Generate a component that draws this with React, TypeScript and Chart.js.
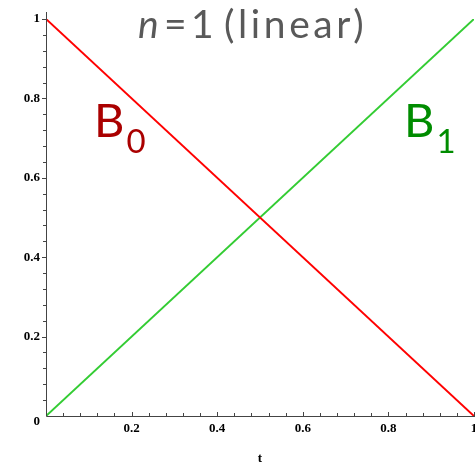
import React, { useEffect, useRef } from "react";
import { Chart, registerables } from "chart.js";

Chart.register(...registerables);

const tValues = [0, 1];
const b0Values = [1, 0];
const b1Values = [0, 1];
const xTickLabels = ["0.2", "0.4", "0.6", "0.8", "1"];
const xTickValues = [0.2, 0.4, 0.6, 0.8, 1];
const yTickLabels = ["0", "0.2", "0.4", "0.6", "0.8", "1"];
const yTickValues = [0, 0.2, 0.4, 0.6, 0.8, 1];
const minorStep = 0.04;
const titleText = "(linear)";

const axesPlugin = {
  id: "mapleAxes",
  afterDatasetsDraw(chart: any) {
    const ctx = chart.ctx;
    const xs = chart.scales.x;
    const ys = chart.scales.y;
    const x0 = xs.getPixelForValue(0);
    const y0 = ys.getPixelForValue(0);
    const x1 = xs.getPixelForValue(1);
    const y1 = ys.getPixelForValue(1);
    ctx.save();
    ctx.strokeStyle = "#444";
    ctx.lineWidth = 1;
    // axes
    ctx.beginPath();
    ctx.moveTo(x0 + 0.5, y1 - 7);
    ctx.lineTo(x0 + 0.5, y0 + 0.5);
    ctx.lineTo(x1 + 2, y0 + 0.5);
    ctx.stroke();
    // minor + major ticks
    ctx.beginPath();
    for (let i = 1; i <= 25; i++) {
      const v = i * minorStep;
      const major = i % 5 === 0;
      const px = Math.round(xs.getPixelForValue(v)) + 0.5;
      ctx.moveTo(px, y0);
      ctx.lineTo(px, y0 - (major ? 4 : 3));
      const py = Math.round(ys.getPixelForValue(v)) + 0.5;
      ctx.moveTo(x0, py);
      ctx.lineTo(x0 - (major ? 4 : 3), py);
    }
    ctx.stroke();
    // tick labels
    ctx.fillStyle = "#000";
    ctx.font = "bold 13px 'Liberation Serif', serif";
    ctx.textAlign = "right";
    ctx.textBaseline = "middle";
    yTickValues.forEach((v, i) => {
      const py = ys.getPixelForValue(v) + (v === 0 ? 6 : 0);
      ctx.fillText(yTickLabels[i], x0 - 6, py);
    });
    ctx.textAlign = "center";
    xTickValues.forEach((v, i) => {
      ctx.fillText(xTickLabels[i], xs.getPixelForValue(v), y0 + 13);
    });
    ctx.fillText("t", xs.getPixelForValue(0.5), y0 + 43);
    // title
    ctx.fillStyle = "#595959";
    ctx.textBaseline = "alphabetic";
    ctx.textAlign = "left";
    const ty = 38;
    ctx.font = "italic 39px Lato, 'Open Sans', sans-serif";
    ctx.fillText("n", 138, ty);
    ctx.font = "39px Lato, 'Open Sans', sans-serif";
    ctx.fillText("=", 164, ty);
    ctx.fillText("1", 191, ty);
    ctx.letterSpacing = "3.6px";
    ctx.fillText(titleText, 224, ty);
    ctx.letterSpacing = "0px";
    // series labels
    const drawLabel = (sub: string, color: string, x: number) => {
      ctx.fillStyle = color;
      ctx.font = "47px Lato, 'Open Sans', sans-serif";
      ctx.fillText("B", x, 137);
      const w = ctx.measureText("B").width;
      ctx.font = "33px Lato, 'Open Sans', sans-serif";
      ctx.fillText(sub, x + w + 2, 153);
    };
    drawLabel("0", "#aa0000", 94);
    drawLabel("1", "#008c00", 404);
    ctx.restore();
  },
};

export default function App() {
  const ref = useRef<HTMLCanvasElement>(null);
  useEffect(() => {
    document.body.style.margin = "0";
    const chart = new Chart(ref.current!, {
      type: "line",
      data: {
        labels: tValues,
        datasets: [
          {
            label: "B0",
            data: tValues.map((t, i) => ({ x: t, y: b0Values[i] })),
            borderColor: "#ff0000",
            borderWidth: 2,
            pointRadius: 0,
            order: 0,
          },
          {
            label: "B1",
            data: tValues.map((t, i) => ({ x: t, y: b1Values[i] })),
            borderColor: "#33cc33",
            borderWidth: 2,
            pointRadius: 0,
            order: 1,
          },
        ],
      },
      options: {
        animation: false,
        responsive: false,
        layout: { padding: { left: 46, right: 1, top: 19, bottom: 47 } },
        plugins: { legend: { display: false }, tooltip: { enabled: false } },
        scales: {
          x: { type: "linear", min: 0, max: 1, display: false },
          y: { type: "linear", min: 0, max: 1, display: false },
        },
      },
      plugins: [axesPlugin],
    });
    return () => chart.destroy();
  }, []);
  return (
    <div style={{ position: "fixed", left: 0, top: 0, width: 475, height: 463, background: "#fff" }}>
      <canvas ref={ref} width={475} height={463} />
    </div>
  );
}
